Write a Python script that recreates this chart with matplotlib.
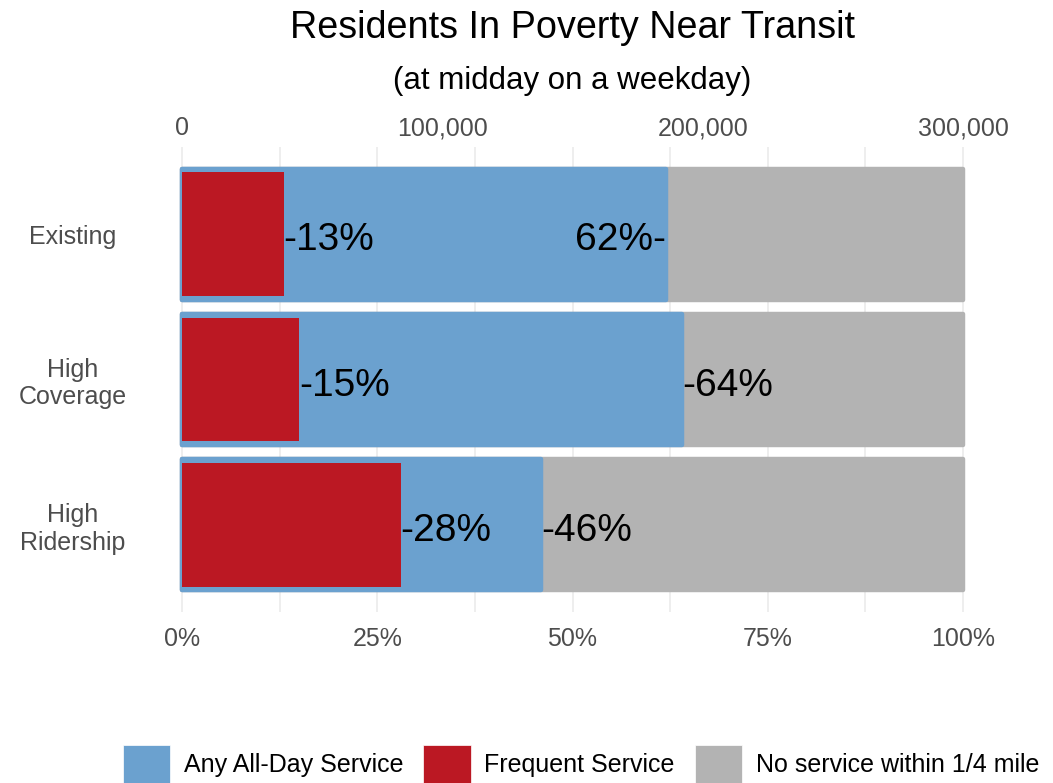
import matplotlib
matplotlib.use("Agg")
import matplotlib.pyplot as plt
from matplotlib.patches import Patch
from matplotlib.ticker import FuncFormatter, MultipleLocator

# ---- data -------------------------------------------------------------
scenarios = ["Existing", "High\nCoverage", "High\nRidership"]
frequent_share = [0.13, 0.15, 0.28]      # Frequent Service
all_day_share = [0.62, 0.64, 0.46]       # Any All-Day Service
total_residents = 300000                 # residents in poverty (top axis scale)
count_ticks = [0, 100000, 200000, 300000]
pct_ticks = [0, 0.25, 0.5, 0.75, 1.0]
# which side of the bar end the all-day label sits on
all_day_label_side = ["right", "left", "left"]

legend_labels = ["Any All-Day Service", "Frequent Service", "No service within 1/4 mile"]

# ---- style ------------------------------------------------------------
BLUE = "#6ba1cf"
RED = "#bb1823"
GRAY = "#b3b3b3"
TICK_COLOR = "#4d4d4d"
GRID_COLOR = "#ebebeb"

plt.rcParams["font.family"] = ["Liberation Sans", "DejaVu Sans"]

W, H = 1053, 783
fig = plt.figure(figsize=(W / 100, H / 100), dpi=100)

# panel placement in pixels
x0_px, x1_px = 182, 963          # where 0% and 100% fall
xpad = 0.012
left_px = x0_px - xpad * (x1_px - x0_px)
right_px = x1_px + xpad * (x1_px - x0_px)
top_px, bottom_px = 147, 612
ax = fig.add_axes([left_px / W, 1 - bottom_px / H,
                   (right_px - left_px) / W, (bottom_px - top_px) / H])
ax.set_xlim(-xpad, 1 + xpad)
ax.set_ylim(len(scenarios) - 0.4, -0.6)
unit_px = (bottom_px - top_px) / (len(scenarios) + 0.2)

ypos = list(range(len(scenarios)))
edge_lw = 3.2
outer_h = 0.9
inner_h = 0.85

# background "no service" bars span the full population
ax.barh(ypos, [1.0] * len(scenarios), height=outer_h, color=GRAY,
        edgecolor=GRAY, linewidth=edge_lw, joinstyle="round", zorder=2)
ax.barh(ypos, all_day_share, height=outer_h, color=BLUE,
        edgecolor=BLUE, linewidth=edge_lw, joinstyle="round", zorder=3)
ax.barh(ypos, frequent_share, height=inner_h, color=RED,
        linewidth=0, zorder=4)

# value labels, baseline placed so the digits sit centred on the bar
base_off = 16 / unit_px
for y, f, a, side in zip(ypos, frequent_share, all_day_share, all_day_label_side):
    ax.text(f, y + base_off, f"-{round(f * 100)}%", ha="left", va="baseline",
            fontsize=28, color="black", zorder=5)
    if side == "right":
        ax.text(a, y + base_off, f"{round(a * 100)}%-", ha="right", va="baseline",
                fontsize=28, color="black", zorder=5)
    else:
        ax.text(a, y + base_off, f"-{round(a * 100)}%", ha="left", va="baseline",
                fontsize=28, color="black", zorder=5)

# axes / grid
ax.set_xticks(pct_ticks)
ax.xaxis.set_minor_locator(MultipleLocator(0.125))
ax.xaxis.set_major_formatter(FuncFormatter(lambda v, _: f"{v * 100:.0f}%"))
ax.grid(axis="x", which="both", color=GRID_COLOR, linewidth=1.2, zorder=0)
ax.set_axisbelow(True)
ax.tick_params(axis="x", which="both", length=0, pad=11,
               labelsize=18, labelcolor=TICK_COLOR)
ax.set_yticks(ypos)
ax.set_yticklabels(scenarios, linespacing=1.17)
for lbl in ax.get_yticklabels():
    lbl.set_horizontalalignment("center")
ax.tick_params(axis="y", length=0, pad=(left_px - 73) * 0.72,
               labelsize=18, labelcolor=TICK_COLOR)
for s in ax.spines.values():
    s.set_visible(False)

sec = ax.secondary_xaxis("top", functions=(lambda f: f * total_residents,
                                           lambda c: c / total_residents))
sec.set_xticks(count_ticks)
sec.xaxis.set_major_formatter(FuncFormatter(lambda v, _: f"{v:,.0f}"))
sec.tick_params(axis="x", length=0, pad=5, labelsize=18, labelcolor=TICK_COLOR)
for s in sec.spines.values():
    s.set_visible(False)

# titles
cx = (x0_px + x1_px) / 2 / W
fig.text(cx, 1 - 38 / H, "Residents In Poverty Near Transit",
         ha="center", va="baseline", fontsize=27.2, color="black")
fig.text(cx, 1 - 89 / H, "(at midday on a weekday)",
         ha="center", va="baseline", fontsize=22.5, color="black")

# legend
handles = [Patch(facecolor=BLUE, edgecolor="white", linewidth=0.5),
           Patch(facecolor=RED, edgecolor="white", linewidth=0.5),
           Patch(facecolor=GRAY, edgecolor="white", linewidth=0.5)]
fig.legend(handles, legend_labels, loc="center", ncol=3,
           bbox_to_anchor=(581 / W, 1 - 764 / H), frameon=False,
           fontsize=18, handlelength=1.9, handleheight=1.95,
           handletextpad=0.55, columnspacing=0.8, borderpad=0)

fig.savefig("out.png", dpi=100)
